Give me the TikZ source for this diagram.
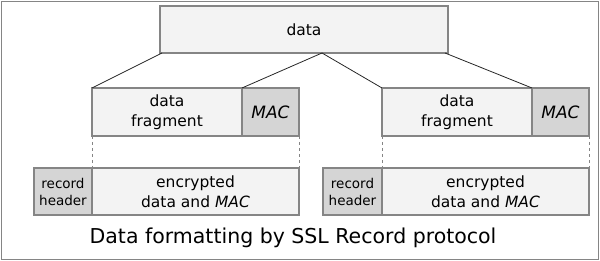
\documentclass[tikz,border=0pt]{standalone}
\usepackage{fontspec}
\setmainfont{DejaVu Sans}
\usetikzlibrary{positioning, calc}
\definecolor{RecLight}{HTML}{F3F3F3}
\definecolor{RecDark}{HTML}{D5D5D5}
\definecolor{RecEdge}{HTML}{858585}

\begin{document}
\begin{tikzpicture}[x=1pt, y=-1pt, node distance=0pt,
        box/.style={rectangle, draw=RecEdge, line width=1.4pt, fill=RecLight, inner sep=0pt, outer sep=0pt, align=center, font=\fontsize{15.5}{20}\selectfont},
        darkbox/.style={box, fill=RecDark},
        macbox/.style={darkbox, font=\fontsize{17}{20}\selectfont\itshape},
        hdrbox/.style={darkbox, font=\fontsize{13.5}{17}\selectfont},
        link/.style={black!85, line width=0.8pt},
        gap/.style={RecEdge, line width=0.8pt, dashed}]

        \useasboundingbox (0,0) rectangle (600,261);
        \draw[RecEdge, line width=1pt] (1.5,1.5) rectangle (598.5,259.5);

        \node[box, anchor=north west, minimum width=288pt, minimum height=47pt] (data) at (160,6) {data};

        % left record
        \node[box, anchor=north west, minimum width=150pt, minimum height=48pt] (frag1) at (92,88) {data\\fragment};
        \node[macbox, right=of frag1, minimum width=57pt, minimum height=48pt] (mac1) {MAC};
        \node[hdrbox, anchor=north west, minimum width=58pt, minimum height=47pt] (hdr1) at (34,168) {record\\header};
        \node[box, right=of hdr1, minimum width=207pt, minimum height=47pt] (enc1) {encrypted\\data and \textit{MAC}};

        % right record
        \node[box, anchor=north west, minimum width=150pt, minimum height=48pt] (frag2) at (382,88) {data\\fragment};
        \node[macbox, right=of frag2, minimum width=57pt, minimum height=48pt] (mac2) {MAC};
        \node[hdrbox, anchor=north west, minimum width=59pt, minimum height=47pt] (hdr2) at (323,168) {record\\header};
        \node[box, right=of hdr2, minimum width=207pt, minimum height=47pt] (enc2) {encrypted\\data and \textit{MAC}};

        \node[font=\fontsize{20.5}{23}\selectfont] (caption) at (293,238) {Data formatting by SSL Record protocol};

        \coordinate (split) at ($(data.south west)!0.5625!(data.south east)$);
        \draw[link] ($(data.south west)+(2,0)$) -- (frag1.north west);
        \draw[link] (split) -- (mac1.north west);
        \draw[link] (split) -- (frag2.north west);
        \draw[link] ($(data.south east)+(-3,0)$) -- (mac2.north west);

        \draw[gap] (frag1.south west) -- (enc1.north west);
        \draw[gap] (mac1.south east) -- (enc1.north east);
        \draw[gap] (frag2.south west) -- (enc2.north west);
        \draw[gap] (mac2.south east) -- (enc2.north east);
    \end{tikzpicture}
\end{document}
